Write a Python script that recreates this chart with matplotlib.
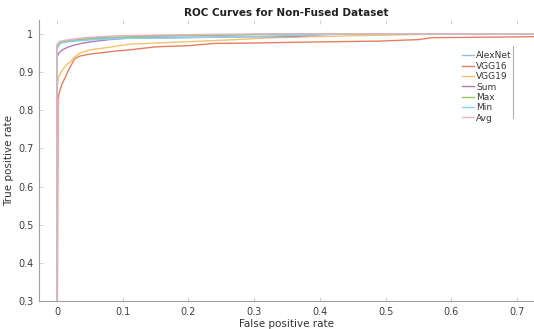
import matplotlib
matplotlib.use("Agg")
import matplotlib.pyplot as plt
from matplotlib.lines import Line2D

# ROC points
alexnet_fpr = [0, 0, 0.003, 0.01, 0.03, 0.06, 0.12, 0.2, 0.35, 0.5, 1.0]
alexnet_tpr = [0, 0.965, 0.975, 0.98, 0.984, 0.99, 0.993, 0.995, 1.0, 1.0, 1.0]

vgg16_fpr = [0, 0.0015, 0.0015, 0.004, 0.008, 0.012, 0.016, 0.02, 0.027, 0.035, 0.05,
             0.065, 0.09, 0.11, 0.15, 0.2, 0.24, 0.3, 0.4, 0.49, 0.55, 0.57, 0.7, 1.0]
vgg16_tpr = [0, 0.76, 0.83, 0.85, 0.87, 0.884, 0.9, 0.913, 0.935, 0.942, 0.947,
             0.95, 0.955, 0.958, 0.966, 0.969, 0.975, 0.976, 0.979, 0.981, 0.985, 0.99, 0.992, 1.0]

vgg19_fpr = [0, 0, 0.002, 0.006, 0.01, 0.015, 0.02, 0.027, 0.035, 0.05, 0.08, 0.11,
             0.15, 0.22, 0.26, 0.33, 0.45, 0.6, 1.0]
vgg19_tpr = [0, 0.86, 0.885, 0.9, 0.91, 0.92, 0.926, 0.94, 0.95, 0.958, 0.965, 0.973,
             0.976, 0.981, 0.984, 0.99, 0.995, 1.0, 1.0]

sum_fpr = [0, 0, 0.003, 0.008, 0.015, 0.025, 0.04, 0.06, 0.08, 0.11, 0.18, 0.26, 0.36, 0.42, 1.0]
sum_tpr = [0, 0.94, 0.95, 0.958, 0.964, 0.97, 0.976, 0.981, 0.985, 0.989, 0.99, 0.992, 0.993, 1.0, 1.0]

max_fpr = [0, 0, 0.004, 0.02, 0.05, 0.1, 0.14, 0.25, 0.4, 1.0]
max_tpr = [0, 0.968, 0.978, 0.982, 0.987, 0.99, 0.995, 0.997, 1.0, 1.0]

min_fpr = [0, 0, 0.005, 0.02, 0.06, 0.1, 0.2, 0.3, 0.45, 1.0]
min_tpr = [0, 0.96, 0.975, 0.98, 0.985, 0.988, 0.99, 0.993, 1.0, 1.0]

avg_fpr = [0, 0, 0.004, 0.015, 0.04, 0.09, 0.15, 0.3, 1.0]
avg_tpr = [0, 0.972, 0.98, 0.984, 0.99, 0.995, 0.997, 1.0, 1.0]

names = ["AlexNet", "VGG16", "VGG19", "Sum", "Max", "Min", "Avg"]
colors = ["#8cbde0", "#e5805e", "#f3c46a", "#ae7cbc", "#98c466", "#86d2f2", "#e8b4be"]

x_ticks = [0, 0.1, 0.2, 0.3, 0.4, 0.5, 0.6, 0.7]
x_labels = ["0", "0.1", "0.2", "0.3", "0.4", "0.5", "0.6", "0.7"]
y_ticks = [0.3, 0.4, 0.5, 0.6, 0.7, 0.8, 0.9, 1.0]
y_labels = ["0.3", "0.4", "0.5", "0.6", "0.7", "0.8", "0.9", "1"]


def main():
    curves = [
        (alexnet_fpr, alexnet_tpr), (vgg16_fpr, vgg16_tpr), (vgg19_fpr, vgg19_tpr),
        (sum_fpr, sum_tpr), (max_fpr, max_tpr), (min_fpr, min_tpr), (avg_fpr, avg_tpr),
    ]

    fig = plt.figure(figsize=(5.34, 3.29), dpi=100)
    ax = fig.add_axes([0.073, 0.085, 0.927, 0.855])

    for (fpr, tpr), name, c in zip(curves, names, colors):
        ax.plot(fpr, tpr, color=c, lw=1.0, label=name)

    ax.set_xlim(-0.0274, 0.7256)
    ax.set_ylim(0.3, 1.037)
    ax.set_xticks(x_ticks)
    ax.set_xticklabels(x_labels)
    ax.set_yticks(y_ticks)
    ax.set_yticklabels(y_labels)

    for s in ["top", "right"]:
        ax.spines[s].set_visible(False)
    for s in ["left", "bottom"]:
        ax.spines[s].set_color("#a0a0a0")
        ax.spines[s].set_linewidth(0.8)
    ax.tick_params(direction="in", length=3, width=0.6, color="#c8c8c8",
                   labelsize=7, labelcolor="#404040", top=True, pad=4)

    ax.set_title("ROC Curves for Non-Fused Dataset", fontsize=7.5,
                 fontweight="bold", color="#222222", pad=3)
    ax.set_xlabel("False positive rate", fontsize=7.5, color="#333333", labelpad=2)
    ax.set_ylabel("True positive rate", fontsize=7.5, color="#333333", labelpad=3)

    leg = ax.legend(loc="upper right", bbox_to_anchor=(0.962, 0.9), fontsize=6.5,
                    frameon=False, handlelength=1.3, handletextpad=0.2,
                    labelspacing=0.15, borderaxespad=0)
    for t in leg.get_texts():
        t.set_color("#333333")
    # thin right edge of the legend box, as in the reference
    ax.add_line(Line2D([0.957, 0.957], [0.65, 0.905], transform=ax.transAxes,
                       color="#b0b0b0", lw=0.8))

    fig.savefig("out.png", dpi=100)
    plt.close(fig)


if __name__ == "__main__":
    main()
